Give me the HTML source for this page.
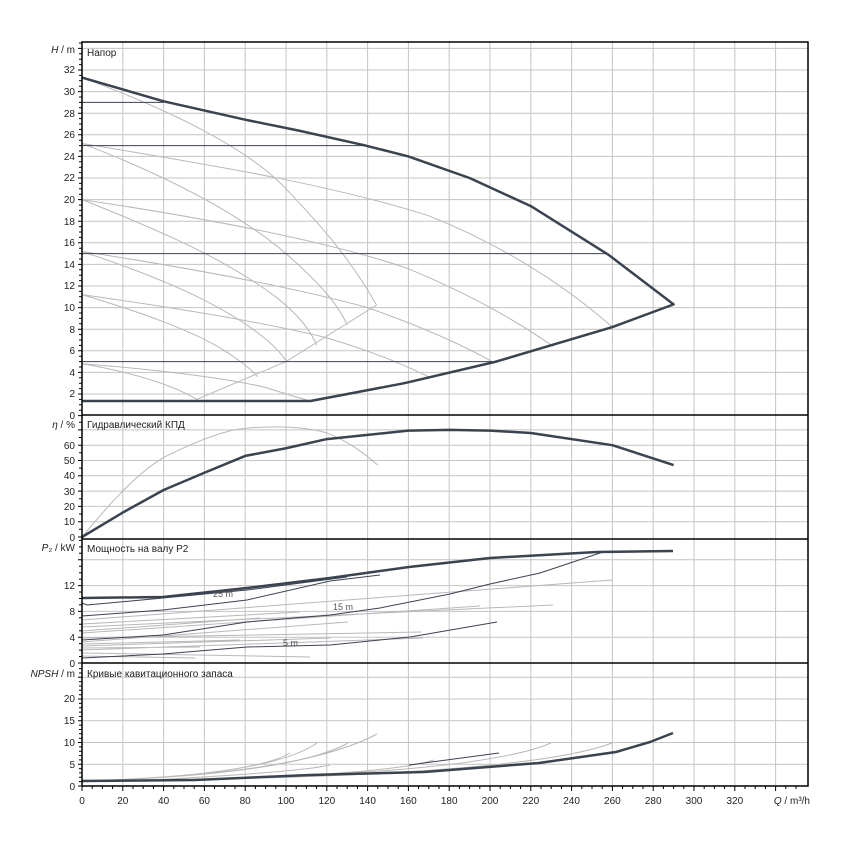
<!DOCTYPE html>
<html><head><meta charset="utf-8"><style>
html,body{margin:0;padding:0;background:#fff}
svg{display:block}
text{font-family:"Liberation Sans","Noto Sans CJK SC",sans-serif;font-size:10px;fill:#222}
.g{stroke:#c4c4c4;stroke-width:1;fill:none}
.th{stroke:#3a4350;stroke-width:2.5;fill:none;vector-effect:non-scaling-stroke;stroke-linejoin:round}
.dk{stroke:#3a4350;stroke-width:1;fill:none;vector-effect:non-scaling-stroke}
.gr{stroke:#b8b8b8;stroke-width:1;fill:none;vector-effect:non-scaling-stroke}
</style></head><body>
<svg width="850" height="850" viewBox="0 0 850 850" xmlns="http://www.w3.org/2000/svg">
<rect width="850" height="850" fill="#fff"/>
<g id="grid">
<!-- vertical grid -->
<g class="g">
<path d="M122.8 42V786M163.6 42V786M204.4 42V786M245.2 42V786M286 42V786M326.8 42V786M367.6 42V786M408.4 42V786M449.2 42V786M490 42V786M530.8 42V786M571.6 42V786M612.4 42V786M653.2 42V786M694 42V786M734.8 42V786M775.6 42V786"/>
<!-- H grid -->
<path d="M82 394H808M82 372.4H808M82 350.8H808M82 329.2H808M82 307.6H808M82 286H808M82 264.4H808M82 242.8H808M82 221.2H808M82 199.6H808M82 178H808M82 156.4H808M82 134.8H808M82 113.2H808M82 91.6H808M82 70H808M82 48.4H808"/>
<!-- eta grid -->
<path d="M82 521.7H808M82 506.4H808M82 491.1H808M82 475.8H808M82 460.5H808M82 445.2H808M82 429.9H808"/>
<!-- P grid -->
<path d="M82 637.2H808M82 611.4H808M82 585.6H808M82 559.8H808"/>
<!-- NPSH grid -->
<path d="M82 764.3H808M82 742.5H808M82 720.8H808M82 699H808M82 677.2H808"/>
</g>
</g>

<!-- H panel -->
<g transform="matrix(2.04,0,0,-10.8,82,415.6)">
<!-- gray steep curves -->
<path class="gr" d="M0 31.3 C40 28.5 80 25 100 21 C115 18 130 15 144.4 10.24"/>
<path class="gr" d="M0 25.2 C40 22.3 75 19 100 15 C115 12.5 125 10.5 130 8.4"/>
<path class="gr" d="M0 20 C40 17 70 14.5 95 11 C105 9.5 112 8 115 6.5"/>
<path class="gr" d="M0 15.2 C35 13 60 11 80 8.5 C90 7.2 96 6.2 100 5.1"/>
<path class="gr" d="M0 11.2 C30 9.5 55 7.8 70 6 C78 5 83 4.3 86 3.6"/>
<path class="gr" d="M0 4.8 C25 4 45 2.8 56.2 1.5"/>
<!-- gray shallow curves -->
<path class="gr" d="M0 25.2 C60 23.3 120 21.5 170 18.5 C210 15.5 240 11.5 260 8.2"/>
<path class="gr" d="M0 20 C60 18.3 120 16.2 160 13.6 C195 10.8 215 8.5 231 6.4"/>
<path class="gr" d="M0 15.2 C55 13.6 105 11.8 140 10 C170 8 190 6.2 202 4.9"/>
<path class="gr" d="M0 11.2 C45 10 90 8.6 120 7.2 C145 5.8 160 4.5 171 3.5"/>
<path class="gr" d="M0 4.8 C35 4.3 70 3.5 90 2.6 C100 2 107 1.6 112 1.35"/>
<!-- min flow line -->
<path class="gr" d="M56.2 1.5 L100 5 L144.4 10.24"/>
<!-- dark horizontals -->
<path class="dk" d="M0 29H40M0 25H138M0 15H258M0 5H203"/>
<!-- main envelope -->
<path class="th" d="M0 31.3 L40 29.1 L80 27.4 L106 26.4 L138 25.05 L160 24 L190 22 L220 19.4 L258 14.9 L290 10.3 L260 8.2 L203 5 L158 3 L112 1.35 L0 1.35"/>
</g>

<!-- eta panel -->
<g transform="matrix(2.04,0,0,-1.53,82,537)">
<path class="gr" d="M0 0 C10 16 25 40 40 52 C55 62 70 70 80 71 C95 73 110 72 120 68 C130 63 138 55 145 47"/>
<path class="th" d="M0 0 L20 16 L40 30.7 L60 42 L80 53 L100 58 L120 64 L160 69.5 L180 70 L200 69.5 L220 68 L260 60 L290 47"/>
</g>

<!-- P panel (pixel coords) -->
<g>
<path class="gr" d="M82 620 L612 580M82 627 L553 605M82 633 L480 606M82 638 L421 632M82 642 L348 622M82 646 L330 638M82 650 L423 638M82 653 L310 657M82 656 L195 658M82 624 L300 612M82 631 L260 618M82 644 L240 640M82 648 L200 647"/>
<path class="dk" d="M82 603 L87 605 L163 598 L247 590 L347 577"/>
<path class="dk" d="M82 616 L163 610 L247 600 L330 581 L380 575"/>
<path class="dk" d="M82 640 L163 635 L247 622 L330 615 L380 608 L450 594 L490 584 L540 573 L603 552"/>
<path class="dk" d="M82 658 L163 654 L247 647 L330 645 L380 640 L410 637 L497 622"/>
<path class="th" d="M82 598 L163 597 L247 588 L330 578 L380 571 L409 567 L490 558 L597 552 L673 551"/>
<text x="213" y="597" style="font-size:9px;fill:#555">25 m</text>
<text x="333" y="610" style="font-size:9px;fill:#555">15 m</text>
<text x="283" y="646" style="font-size:9px;fill:#555">5 m</text>
</g>

<!-- NPSH panel -->
<g>
<path class="gr" d="M82 781 Q300 775 377 734M82 781 Q290 775 348 743M82 781 Q270 776 317 743M82 781 Q250 776 290 753M82 781 Q380 778 434 760M82 781 Q470 778 551 743M82 781 Q520 778 612 743M150 780 Q300 772 330 765"/>
<path class="dk" d="M409 765 L499 753"/>
<path class="th" d="M82 781 L195 780 L310 775 L424 772 L539 763 L616 752 L650 742 L673 733"/>
</g>

<!-- frame -->
<g stroke="#000" fill="none">
<rect x="82" y="42" width="726" height="744" stroke-width="1.5"/>
<path d="M82 415H808M82 539H808M82 663H808" stroke-width="1.5"/>
</g>

<!-- ticks left -->
<g stroke="#000" stroke-width="1">
<path d="M78 415.6H82M78 394H82M78 372.4H82M78 350.8H82M78 329.2H82M78 307.6H82M78 286H82M78 264.4H82M78 242.8H82M78 221.2H82M78 199.6H82M78 178H82M78 156.4H82M78 134.8H82M78 113.2H82M78 91.6H82M78 70H82M78 48.4H82"/>
<path d="M79 410.2H82M79 404.8H82M79 399.4H82M79 388.6H82M79 383.2H82M79 377.8H82M79 367H82M79 361.6H82M79 356.2H82M79 345.4H82M79 340H82M79 334.6H82M79 323.8H82M79 318.4H82M79 313H82M79 302.2H82M79 296.8H82M79 291.4H82M79 280.6H82M79 275.2H82M79 269.8H82M79 259H82M79 253.6H82M79 248.2H82M79 237.4H82M79 232H82M79 226.6H82M79 215.8H82M79 210.4H82M79 205H82M79 194.2H82M79 188.8H82M79 183.4H82M79 172.6H82M79 167.2H82M79 161.8H82M79 151H82M79 145.6H82M79 140.2H82M79 129.4H82M79 124H82M79 118.6H82M79 107.8H82M79 102.4H82M79 97H82M79 86.2H82M79 80.8H82M79 75.4H82M79 64.6H82M79 59.2H82M79 53.8H82M79 43H82"/>
<path d="M78 537H82M78 521.7H82M78 506.4H82M78 491.1H82M78 475.8H82M78 460.5H82M78 445.2H82M78 429.9H82M79 529.3H82M79 514H82M79 498.7H82M79 483.4H82M79 468.1H82M79 452.8H82M79 437.5H82M79 422.2H82"/>
<path d="M78 663H82M78 637.2H82M78 611.4H82M78 585.6H82M78 559.8H82M79 656.5H82M79 650.1H82M79 643.6H82M79 630.7H82M79 624.3H82M79 617.8H82M79 604.9H82M79 598.5H82M79 592H82M79 579.1H82M79 572.7H82M79 566.2H82M79 553.3H82M79 546.9H82M79 540.4H82"/>
<path d="M78 786H82M78 764.3H82M78 742.5H82M78 720.8H82M78 699H82M78 677.2H82M79 781.6H82M79 777.3H82M79 772.9H82M79 768.6H82M79 759.9H82M79 755.6H82M79 751.2H82M79 746.9H82M79 738.2H82M79 733.8H82M79 729.5H82M79 725.1H82M79 716.4H82M79 712.1H82M79 707.7H82M79 703.4H82M79 694.7H82M79 690.3H82M79 686H82M79 681.6H82M79 673H82M79 668.6H82"/>
</g>
<!-- ticks bottom -->
<g stroke="#000" stroke-width="1">
<path d="M82 786V791M122.8 786V791M163.6 786V791M204.4 786V791M245.2 786V791M286 786V791M326.8 786V791M367.6 786V791M408.4 786V791M449.2 786V791M490 786V791M530.8 786V791M571.6 786V791M612.4 786V791M653.2 786V791M694 786V791M734.8 786V791M775.6 786V791"/>
<path d="M92.2 786V789M102.4 786V789M112.6 786V789M133 786V789M143.2 786V789M153.4 786V789M173.8 786V789M184 786V789M194.2 786V789M214.6 786V789M224.8 786V789M235 786V789M255.4 786V789M265.6 786V789M275.8 786V789M296.2 786V789M306.4 786V789M316.6 786V789M337 786V789M347.2 786V789M357.4 786V789M377.8 786V789M388 786V789M398.2 786V789M418.6 786V789M428.8 786V789M439 786V789M459.4 786V789M469.6 786V789M479.8 786V789M500.2 786V789M510.4 786V789M520.6 786V789M541 786V789M551.2 786V789M561.4 786V789M581.8 786V789M592 786V789M602.2 786V789M622.6 786V789M632.8 786V789M643 786V789M663.4 786V789M673.6 786V789M683.8 786V789M704.2 786V789M714.4 786V789M724.6 786V789M745 786V789M755.2 786V789M765.4 786V789M785.8 786V789M796 786V789"/>
</g>

<!-- left labels -->
<g text-anchor="end">
<text x="75" y="419">0</text><text x="75" y="397">2</text><text x="75" y="376">4</text><text x="75" y="354">6</text><text x="75" y="333">8</text><text x="75" y="311">10</text><text x="75" y="289">12</text><text x="75" y="268">14</text><text x="75" y="246">16</text><text x="75" y="225">18</text><text x="75" y="203">20</text><text x="75" y="181">22</text><text x="75" y="160">24</text><text x="75" y="138">26</text><text x="75" y="117">28</text><text x="75" y="95">30</text><text x="75" y="73">32</text>
<text x="75" y="53"><tspan font-style="italic">H</tspan> / m</text>
<text x="75" y="541">0</text><text x="75" y="525">10</text><text x="75" y="510">20</text><text x="75" y="495">30</text><text x="75" y="479">40</text><text x="75" y="464">50</text><text x="75" y="449">60</text>
<text x="75" y="428"><tspan font-style="italic">η</tspan> / %</text>
<text x="75" y="667">0</text><text x="75" y="641">4</text><text x="75" y="615">8</text><text x="75" y="589">12</text>
<text x="75" y="551"><tspan font-style="italic">P</tspan>₂ / kW</text>
<text x="75" y="790">0</text><text x="75" y="768">5</text><text x="75" y="746">10</text><text x="75" y="724">15</text><text x="75" y="702">20</text>
<text x="75" y="677"><tspan font-style="italic">NPSH</tspan> / m</text>
</g>
<!-- panel titles -->
<text x="87" y="56">Напор</text>
<text x="87" y="428">Гидравлический КПД</text>
<text x="87" y="552">Мощность на валу P2</text>
<text x="87" y="677">Кривые кавитационного запаса</text>
<!-- bottom labels -->
<g text-anchor="middle">
<text x="82" y="804">0</text><text x="122.8" y="804">20</text><text x="163.6" y="804">40</text><text x="204.4" y="804">60</text><text x="245.2" y="804">80</text><text x="286" y="804">100</text><text x="326.8" y="804">120</text><text x="367.6" y="804">140</text><text x="408.4" y="804">160</text><text x="449.2" y="804">180</text><text x="490" y="804">200</text><text x="530.8" y="804">220</text><text x="571.6" y="804">240</text><text x="612.4" y="804">260</text><text x="653.2" y="804">280</text><text x="694" y="804">300</text><text x="734.8" y="804">320</text>
</g>
<text x="810" y="804" text-anchor="end"><tspan font-style="italic">Q</tspan> / m³/h</text>
</svg>
</body></html>
